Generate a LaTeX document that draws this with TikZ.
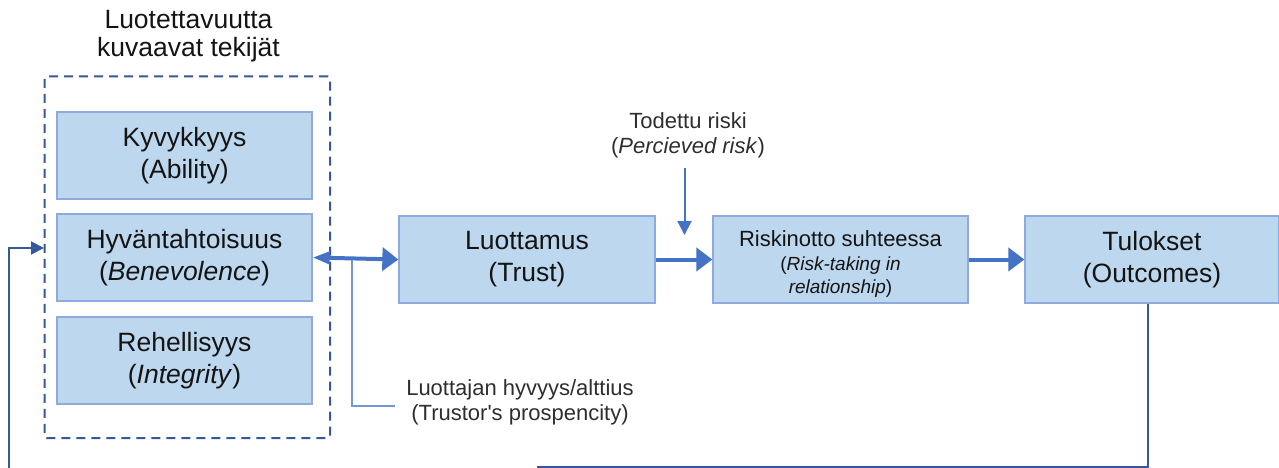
\documentclass[tikz,border=0pt]{standalone}
\usepackage{fontspec}
\setmainfont{Liberation Sans}[Ligatures=TeXOff]
\usetikzlibrary{arrows.meta}

\definecolor{boxfill}{HTML}{BDD7EE}
\definecolor{boxline}{HTML}{8FAADC}
\definecolor{arrowblue}{HTML}{4472C4}
\definecolor{darkblue}{HTML}{34589A}
\definecolor{lightline}{HTML}{7396D6}
\definecolor{txt}{HTML}{141414}
\definecolor{labeltxt}{HTML}{2E2E2E}

\tikzset{
  factorbox/.style={draw=boxline, line width=1.3pt, fill=boxfill, text=txt,
    minimum width=255pt, minimum height=87pt, inner sep=0pt, align=center,
    font=\fontsize{26.5}{32}\selectfont},
  groupframe/.style={draw=darkblue, line width=2pt, dash pattern=on 9pt off 6pt,
    rounded corners=2pt, minimum width=285.5pt, minimum height=361.5pt, inner sep=0pt},
  heading/.style={text=txt, align=center, font=\fontsize{26.5}{28}\selectfont},
  sidelabel/.style={text=labeltxt, align=center, font=\fontsize{22}{25}\selectfont},
  mainflow/.style={draw=arrowblue, line width=4pt},
  bigtip/.style={-{Triangle[length=16pt,width=23pt]}},
  feedback/.style={draw=darkblue, line width=2pt},
}

\begin{document}
\begin{tikzpicture}[x=1pt, y=-1pt]
  \useasboundingbox (0,0) rectangle (1279,468);

  % group of trustworthiness factors
  \node[heading] (title) at (188.5,36) {Luotettavuutta\\kuvaavat tekijät};
  \node[groupframe] (frame) at (187.25,257.25) {};
  \node[factorbox] (kyv) at (184.5,155.5) {Kyvykkyys\\(Ability)};
  \node[factorbox] (hyv) at (184.5,257.5) {Hyväntahtoisuus\\(\textit{Benevolence})};
  \node[factorbox] (reh) at (184.5,360.5) {Rehellisyys\\(\textit{Integrity})};

  % main chain
  \node[factorbox, minimum width=256pt] (trust) at (527,259.5) {Luottamus\\(Trust)};
  \node[factorbox] (risk) at (840.5,259.5) {};
  \begin{scope}
    \clip (risk.south west) rectangle (risk.north east);
    \node[text=txt, align=center, inner sep=0pt, font=\fontsize{19}{23.5}\selectfont]
      (risktext) at (840.5,264) {{\fontsize{22}{25}\selectfont Riskinotto suhteessa}\\(\textit{Risk-taking in}\\\textit{relationship})};
  \end{scope}
  \node[factorbox, minimum width=254pt] (out) at (1152,259.5) {Tulokset\\(Outcomes)};

  % perceived risk
  \node[sidelabel] (perc) at (688,135.5) {Todettu riski\\(\textit{Percieved risk})};
  \coordinate (percend) at (684.5,235);
  \draw[draw=arrowblue, line width=2pt, -{Triangle[length=14pt,width=14pt]}]
    (perc.south -| percend) ++(0,6) -- (percend);

  % arrows between stages
  \draw[mainflow, {Triangle[length=17pt,width=12pt]}-{Triangle[length=16pt,width=23pt]}]
    (hyv.east) -- (trust.west);
  \draw[mainflow, bigtip] (trust.east) -- (risk.west);
  \draw[mainflow, bigtip] (risk.east) -- (out.west);

  % trustor's propensity
  \node[sidelabel] (prop) at (520,402) {Luottajan hyvyys/alttius\\(Trustor's prospencity)};
  \coordinate (propfork) at (352,259.5);
  \coordinate (propend) at (395,406);
  \draw[draw=lightline, line width=1.5pt] (propfork) |- (propend);

  % feedback loop from outcomes
  \coordinate (fbbottom) at (537,466.5);
  \draw[feedback] ([xshift=-4pt]out.south) |- (fbbottom);
  \coordinate (fbstart) at (8.5,470);
  \coordinate (fbin) at (44,248);
  \draw[feedback, -{Triangle[length=13pt,width=13pt]}] (fbstart) |- (fbin);
\end{tikzpicture}
\end{document}
